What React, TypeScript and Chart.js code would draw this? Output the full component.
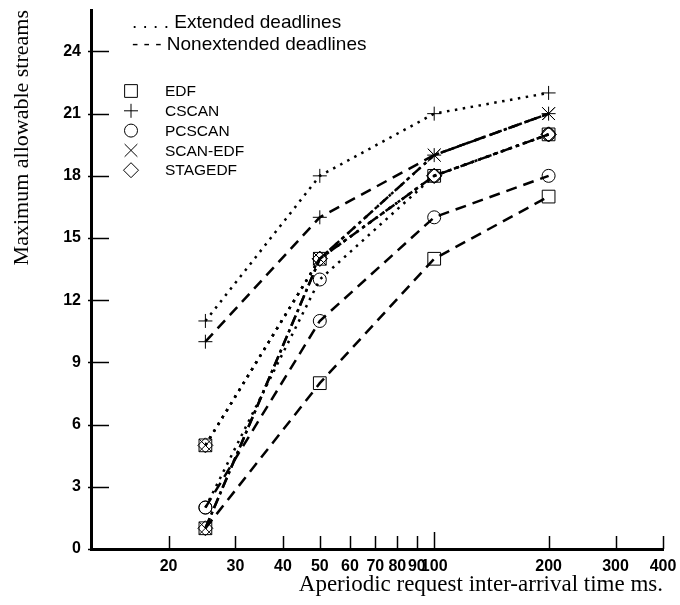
import React, { useEffect, useRef } from "react";
import { Chart, registerables } from "chart.js";
import { drawPoint } from "chart.js/helpers";

Chart.register(...registerables);

// ---- data ----
const X_VALUES = [25, 50, 100, 200];
const X_TICKS = [20, 30, 40, 50, 60, 70, 80, 90, 100, 200, 300, 400];
const Y_TICKS = [0, 3, 6, 9, 12, 15, 18, 21, 24];

const CSCAN_EXT = [11, 18, 21, 22];
const EDF_EXT = [5, 14, 18, 20];
const SCANEDF_EXT = [5, 14, 19, 21];
const STAGEDF_EXT = [5, 14, 18, 20];
const PCSCAN_EXT = [2, 13, 18, 20];

const CSCAN_NON = [10, 16, 19, 21];
const EDF_NON = [1, 8, 14, 17];
const PCSCAN_NON = [2, 11, 16, 18];
const SCANEDF_NON = [1, 14, 19, 21];
const STAGEDF_NON = [1, 14, 18, 20];

const ALGORITHMS = ["EDF", "CSCAN", "PCSCAN", "SCAN-EDF", "STAGEDF"];
const ALGO_STYLES = ["rect", "cross", "circle", "crossRot", "rectRot"];
const LINE_LEGEND = [". . . . Extended deadlines", "- - - Nonextended deadlines"];

const X_TITLE = "Aperiodic request inter-arrival time ms.";
const Y_TITLE = "Maximum allowable streams";

// ---- styles ----
const DOTTED = [2.5, 5.5];
const DASHED = [11, 7];
const DASH_DOT = [11, 4, 3, 4];
const SANS = '"Liberation Sans", Arial, sans-serif';
const SERIF = '"Liberation Serif", "Times New Roman", serif';
const RADIUS: Record<string, number> = { rect: 9, cross: 7, circle: 6.5, crossRot: 9, rectRot: 7.5 };

function series(label: string, values: number[], pointStyle: string, dash: number[]) {
  return {
    label,
    data: X_VALUES.map((x, i) => ({ x, y: values[i] })),
    borderColor: "#000",
    borderWidth: 2.5,
    borderDash: dash,
    borderCapStyle: "butt",
    pointStyle,
    pointRadius: RADIUS[pointStyle],
    pointBorderWidth: 1,
    pointBorderColor: "#000",
    pointBackgroundColor: "rgba(0,0,0,0)",
    fill: false,
    tension: 0,
  };
}

const axisTicksPlugin = {
  id: "axisTicks",
  afterDraw(chart: any) {
    const { ctx, chartArea, scales } = chart;
    const x = scales.x;
    const y = scales.y;
    ctx.save();
    ctx.strokeStyle = "#000";
    ctx.lineWidth = 1.5;
    Y_TICKS.forEach((v) => {
      const py = Math.round(y.getPixelForValue(v)) + 0.5;
      ctx.beginPath();
      ctx.moveTo(chartArea.left - 3, py);
      ctx.lineTo(chartArea.left + 18, py);
      ctx.stroke();
    });
    X_TICKS.forEach((v) => {
      const px = Math.round(x.getPixelForValue(v)) + 0.5;
      const len = v === 100 ? 17 : 13;
      ctx.beginPath();
      ctx.moveTo(px, chartArea.bottom);
      ctx.lineTo(px, chartArea.bottom - len);
      ctx.stroke();
    });
    ctx.restore();
  },
};

const legendPlugin = {
  id: "customLegend",
  afterDraw(chart: any) {
    const { ctx } = chart;
    ctx.save();
    ctx.fillStyle = "#000";
    ctx.textBaseline = "middle";
    ctx.textAlign = "left";
    ctx.font = `19px ${SANS}`;
    ctx.fillText(LINE_LEGEND[0], 132, 23);
    ctx.fillText(LINE_LEGEND[1], 132, 45);
    ctx.font = `15.5px ${SANS}`;
    ALGORITHMS.forEach((name, i) => {
      const yy = 91 + i * 19.8;
      const style = ALGO_STYLES[i];
      ctx.strokeStyle = "#000";
      ctx.fillStyle = "rgba(0,0,0,0)";
      ctx.lineWidth = 1;
      drawPoint(ctx, { pointStyle: style, radius: RADIUS[style], borderWidth: 1, rotation: 0 } as any, 131, yy);
      ctx.fillStyle = "#000";
      ctx.fillText(name, 165, yy + 1);
    });
    ctx.restore();
  },
};

export default function App() {
  const ref = useRef<HTMLCanvasElement>(null);
  useEffect(() => {
    const chart = new Chart(ref.current as HTMLCanvasElement, {
      type: "line",
      data: {
        datasets: [
          series("CSCAN extended", CSCAN_EXT, "cross", DOTTED),
          series("EDF extended", EDF_EXT, "rect", DOTTED),
          series("SCAN-EDF extended", SCANEDF_EXT, "crossRot", DOTTED),
          series("STAGEDF extended", STAGEDF_EXT, "rectRot", DOTTED),
          series("PCSCAN extended", PCSCAN_EXT, "circle", DOTTED),
          series("CSCAN nonextended", CSCAN_NON, "cross", DASHED),
          series("EDF nonextended", EDF_NON, "rect", DASHED),
          series("PCSCAN nonextended", PCSCAN_NON, "circle", DASHED),
          series("SCAN-EDF nonextended", SCANEDF_NON, "crossRot", DASH_DOT),
          series("STAGEDF nonextended", STAGEDF_NON, "rectRot", DASH_DOT),
        ] as any,
      },
      options: {
        responsive: false,
        animation: false,
        layout: { padding: { top: 9, right: 17, left: 0, bottom: 0 } },
        plugins: { legend: { display: false }, tooltip: { enabled: false } },
        scales: {
          x: {
            type: "logarithmic",
            min: 12.5,
            max: 400,
            grid: { display: false, drawTicks: false },
            border: { display: true, width: 3, color: "#000" },
            afterBuildTicks: (s: any) => {
              s.ticks = X_TICKS.map((v) => ({ value: v }));
            },
            afterFit: (s: any) => {
              s.height = 56;
              s.paddingLeft = 0;
              s.paddingRight = 0;
            },
            ticks: {
              autoSkip: false,
              maxRotation: 0,
              minRotation: 0,
              padding: 8,
              color: "#000",
              font: { family: SANS, size: 16, weight: "bold" },
              callback: (v: any) => String(v),
            },
            title: {
              display: true,
              text: X_TITLE,
              align: "end",
              color: "#000",
              font: { family: SERIF, size: 23 },
              padding: { top: 0, bottom: 6 },
            },
          },
          y: {
            type: "linear",
            min: 0,
            max: 26,
            grid: { display: false, drawTicks: false },
            border: { display: true, width: 3, color: "#000" },
            afterBuildTicks: (s: any) => {
              s.ticks = Y_TICKS.map((v) => ({ value: v }));
            },
            afterFit: (s: any) => {
              s.width = 91;
              s.paddingTop = 0;
              s.paddingBottom = 0;
            },
            ticks: {
              padding: 10,
              color: "#000",
              font: { family: SANS, size: 16, weight: "bold" },
              callback: (v: any) => String(v),
            },
            title: {
              display: true,
              text: Y_TITLE,
              align: "end",
              color: "#000",
              font: { family: SERIF, size: 22 },
              padding: { top: 9, bottom: 0 },
            },
          },
        },
      } as any,
      plugins: [axisTicksPlugin, legendPlugin],
    });
    return () => chart.destroy();
  }, []);
  return (
    <div style={{ position: "absolute", left: 0, top: 0, width: 680, height: 605, background: "#fff" }}>
      <canvas ref={ref} width={680} height={605} style={{ width: 680, height: 605, display: "block" }} />
    </div>
  );
}
